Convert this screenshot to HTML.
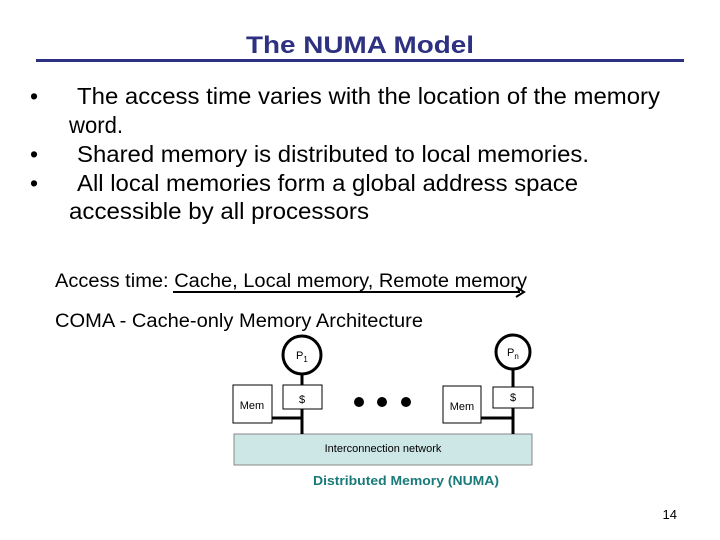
<!DOCTYPE html>
<html><head><meta charset="utf-8"><style>
html,body{margin:0;padding:0;background:#fff;}
svg{display:block;}
text{font-family:"Liberation Sans",Arial,sans-serif;}
</style></head><body>
<svg width="720" height="540" viewBox="0 0 720 540" xmlns="http://www.w3.org/2000/svg">
<text x="246" y="53" font-size="24" font-weight="bold" fill="#2e3082" textLength="228" lengthAdjust="spacingAndGlyphs">The NUMA Model</text>
<rect x="36" y="59" width="648" height="3" fill="#2e3082"/>
<g font-size="23" fill="#000">
<text x="30" y="104">•</text>
<text x="77" y="104" textLength="583" lengthAdjust="spacingAndGlyphs">The access time varies with the location of the memory</text>
<text x="69" y="133" textLength="54" lengthAdjust="spacingAndGlyphs">word.</text>
<text x="30" y="162">•</text>
<text x="77" y="162" textLength="512" lengthAdjust="spacingAndGlyphs">Shared memory is distributed to local memories.</text>
<text x="30" y="191">•</text>
<text x="77" y="191" textLength="501" lengthAdjust="spacingAndGlyphs">All local memories form a global address space</text>
<text x="69" y="219" textLength="300" lengthAdjust="spacingAndGlyphs">accessible by all processors</text>
</g>
<g font-size="19" fill="#000">
<text x="55" y="287" textLength="472" lengthAdjust="spacingAndGlyphs">Access time: Cache, Local memory, Remote memory</text>
<text x="55" y="327" textLength="368" lengthAdjust="spacingAndGlyphs">COMA - Cache-only Memory Architecture</text>
</g>
<line x1="173" y1="292" x2="520" y2="292" stroke="#000" stroke-width="2"/>
<path d="M516,287 L524,292 L516,297" fill="none" stroke="#000" stroke-width="2"/>
<rect x="234" y="434" width="298" height="31" fill="#cde6e6" stroke="#888" stroke-width="1"/>
<text x="383" y="452" text-anchor="middle" font-size="11">Interconnection network</text>
<g stroke="#000" fill="#fff">
<line x1="302" y1="374" x2="302" y2="434" stroke-width="3"/>
<line x1="272" y1="418" x2="302" y2="418" stroke-width="3"/>
<circle cx="302" cy="355" r="19" stroke-width="3"/>
<rect x="283" y="385" width="39" height="24" stroke-width="1"/>
<rect x="233" y="385" width="39" height="38" stroke-width="1"/>
<line x1="513" y1="369" x2="513" y2="434" stroke-width="3"/>
<line x1="481" y1="418" x2="513" y2="418" stroke-width="3"/>
<circle cx="513" cy="352" r="17" stroke-width="3"/>
<rect x="493" y="387" width="40" height="21" stroke-width="1"/>
<rect x="443" y="386" width="38" height="37" stroke-width="1"/>
</g>
<g font-size="11" fill="#000">
<text x="296" y="359">P<tspan font-size="8" dy="3">1</tspan></text>
<text x="507" y="356">P<tspan font-size="8" dy="3">n</tspan></text>
<text x="302" y="403" text-anchor="middle">$</text>
<text x="513" y="401" text-anchor="middle">$</text>
<text x="252" y="409" text-anchor="middle">Mem</text>
<text x="462" y="410" text-anchor="middle">Mem</text>
</g>
<circle cx="359" cy="402" r="5" fill="#000"/>
<circle cx="382" cy="402" r="5" fill="#000"/>
<circle cx="406" cy="402" r="5" fill="#000"/>
<text x="313" y="485" font-size="13" font-weight="bold" fill="#1a7a7a" textLength="186" lengthAdjust="spacingAndGlyphs">Distributed Memory (NUMA)</text>
<text x="677" y="519" text-anchor="end" font-size="13" fill="#000">14</text>
</svg>
</body></html>
